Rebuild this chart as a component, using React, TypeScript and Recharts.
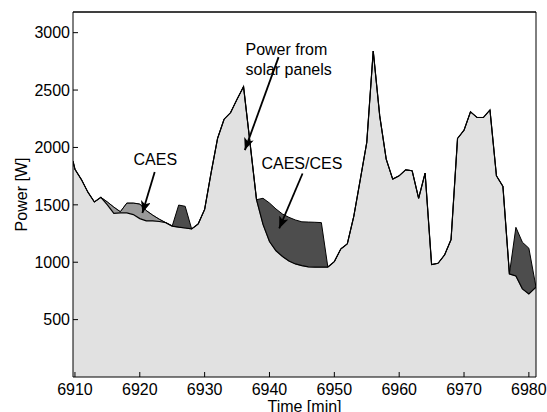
import React from 'react'
import {
  ComposedChart, Area, Line, XAxis, YAxis, ReferenceLine, ReferenceDot,
} from 'recharts'

// time axis [min] (first/last points are the plot edges)
const times = [
  6909.7, 6910, 6911, 6912, 6913, 6914, 6915, 6916, 6917, 6918,
  6919, 6920, 6921, 6922, 6923, 6924, 6925, 6926, 6927, 6928,
  6929, 6930, 6931, 6932, 6933, 6934, 6935, 6936, 6937, 6938,
  6939, 6940, 6941, 6942, 6943, 6944, 6945, 6946, 6947, 6948,
  6949, 6950, 6951, 6952, 6953, 6954, 6955, 6956, 6957, 6958,
  6959, 6960, 6961, 6962, 6963, 6964, 6965, 6966, 6967, 6968,
  6969, 6970, 6971, 6972, 6973, 6974, 6975, 6976, 6977, 6978,
  6979, 6980, 6981.1,
]

// power from solar panels [W]
const solar = [
  1880, 1810, 1720, 1610, 1525, 1565, 1500, 1425, 1430, 1430,
  1415, 1380, 1360, 1360, 1355, 1345, 1315, 1305, 1298, 1290,
  1333, 1460, 1780, 2080, 2246, 2304, 2420, 2530, 2040, 1545,
  1330, 1180, 1100, 1050, 1010, 985, 970, 960, 958, 958,
  958, 1005, 1116, 1160, 1400, 1720, 2043, 2840, 2275, 1898,
  1724, 1753, 1805, 1797, 1557, 1777, 979, 991, 1063, 1197,
  2078, 2150, 2310, 2261, 2261, 2327, 1753, 1661, 898, 880,
  768, 724, 783,
]

// CAES contribution [W]
const caes = [
  0, 0, 0, 0, 0, 0, 25, 55, 10, 85,
  100, 127, 90, 50, 20, 0, 0, 0, 0, 0,
  0, 0, 0, 0, 0, 0, 0, 0, 0, 0,
  0, 0, 0, 0, 0, 0, 0, 0, 0, 0,
  0, 0, 0, 0, 0, 0, 0, 0, 0, 0,
  0, 0, 0, 0, 0, 0, 0, 0, 0, 0,
  0, 0, 0, 0, 0, 0, 0, 0, 0, 0,
  0, 0, 0,
]

// CAES/CES contribution [W]
const ces = [
  0, 0, 0, 0, 0, 0, 0, 0, 0, 0,
  0, 0, 0, 0, 0, 0, 0, 193, 189, 0,
  0, 0, 0, 0, 0, 0, 0, 0, 0, 0,
  227, 336, 364, 370, 381, 383, 382, 390, 390, 387,
  0, 0, 0, 0, 0, 0, 0, 0, 0, 0,
  0, 0, 0, 0, 0, 0, 0, 0, 0, 0,
  0, 0, 0, 0, 0, 0, 0, 0, 0, 424,
  406, 398, 0,
]

const xTicks = [6910, 6920, 6930, 6940, 6950, 6960, 6970, 6980]
const yTicks = [500, 1000, 1500, 2000, 2500, 3000]

const data = times.map((t, i) => ({ t, solar: solar[i], caes: caes[i], ces: ces[i] }))

const FONT = 'Liberation Sans, Arial, Helvetica, sans-serif'
const X_DOMAIN: [number, number] = [6909.7, 6981.1]
const Y_DOMAIN: [number, number] = [0, 3180]

const arrow = (p: any) => (
  <line x1={p.x1} y1={p.y1} x2={p.x2} y2={p.y2} stroke="#000" strokeWidth={1.8}
    markerEnd="url(#arrowHead)" />
)

const txt = (value: string, position: any = 'center') => ({
  value, position, offset: 0,
  style: { fontFamily: FONT, fontSize: 16, fill: '#000' },
})

export default function App() {
  return (
    <div style={{ position: 'absolute', left: 0, top: 0, width: 547, height: 412, background: '#fff' }}>
      <ComposedChart width={547} height={412} data={data}
        margin={{ top: 11, right: 10, bottom: 0, left: 0 }}>
        <defs>
          <marker id="arrowHead" markerWidth="12" markerHeight="10" refX="12" refY="5"
            orient="auto" markerUnits="userSpaceOnUse">
            <path d="M0,0 L12,5 L0,10 L3,5 z" fill="#000" />
          </marker>
        </defs>
        <XAxis dataKey="t" type="number" domain={X_DOMAIN} ticks={xTicks} allowDataOverflow
          height={35} tickSize={-5} tickMargin={12} stroke="#000"
          tick={{ fill: '#000', fontSize: 16, fontFamily: FONT }}
          label={{ value: 'Time [min]', position: 'insideBottom', offset: 0,
            style: { fontFamily: FONT, fontSize: 16, fill: '#000' } }} />
        <XAxis xAxisId="top" dataKey="t" type="number" orientation="top" domain={X_DOMAIN}
          ticks={xTicks} allowDataOverflow height={1} tickSize={-5} tick={false} stroke="#000" />
        <YAxis type="number" domain={Y_DOMAIN} ticks={yTicks} allowDataOverflow width={73}
          tickSize={-5} tickMargin={8} stroke="#000"
          tick={{ fill: '#000', fontSize: 16, fontFamily: FONT }}
          label={{ value: 'Power [W]', angle: -90, position: 'insideLeft', offset: 21,
            style: { fontFamily: FONT, fontSize: 16, fill: '#000', textAnchor: 'middle' } }} />
        <YAxis yAxisId="right" type="number" orientation="right" domain={Y_DOMAIN} ticks={yTicks}
          allowDataOverflow width={1} tickSize={-5} tick={false} stroke="#000" />

        <Area dataKey="solar" stackId="p" type="linear" fill="#e1e1e1" fillOpacity={1}
          stroke="none" isAnimationActive={false} />
        <Area dataKey="caes" stackId="p" type="linear" fill="#9a9a9a" fillOpacity={1}
          stroke="#333" strokeWidth={0.8} isAnimationActive={false} />
        <Area dataKey="ces" stackId="p" type="linear" fill="#4d4d4d" fillOpacity={1}
          stroke="#000" strokeWidth={1} isAnimationActive={false} />
        <Line dataKey="solar" type="linear" stroke="#000" strokeWidth={1.2} dot={false}
          isAnimationActive={false} />

        <ReferenceLine y={3180} stroke="#000" strokeWidth={1} ifOverflow="extendDomain" />
        <ReferenceLine segment={[{ x: 6922.3, y: 1786 }, { x: 6920.4, y: 1429 }]} shape={arrow} />
        <ReferenceLine segment={[{ x: 6941.4, y: 2787 }, { x: 6936.2, y: 1977 }]} shape={arrow} />
        <ReferenceLine segment={[{ x: 6945.1, y: 1773 }, { x: 6941.5, y: 1294 }]} shape={arrow} />

        <ReferenceDot x={6922.4} y={1899} r={0} fill="none" stroke="none" label={txt('CAES')} />
        <ReferenceDot x={6936.3} y={2853} r={0} fill="none" stroke="none" label={txt('Power from', 'right')} />
        <ReferenceDot x={6936.3} y={2679} r={0} fill="none" stroke="none" label={txt('solar panels', 'right')} />
        <ReferenceDot x={6945.0} y={1864} r={0} fill="none" stroke="none" label={txt('CAES/CES')} />
      </ComposedChart>
    </div>
  )
}
